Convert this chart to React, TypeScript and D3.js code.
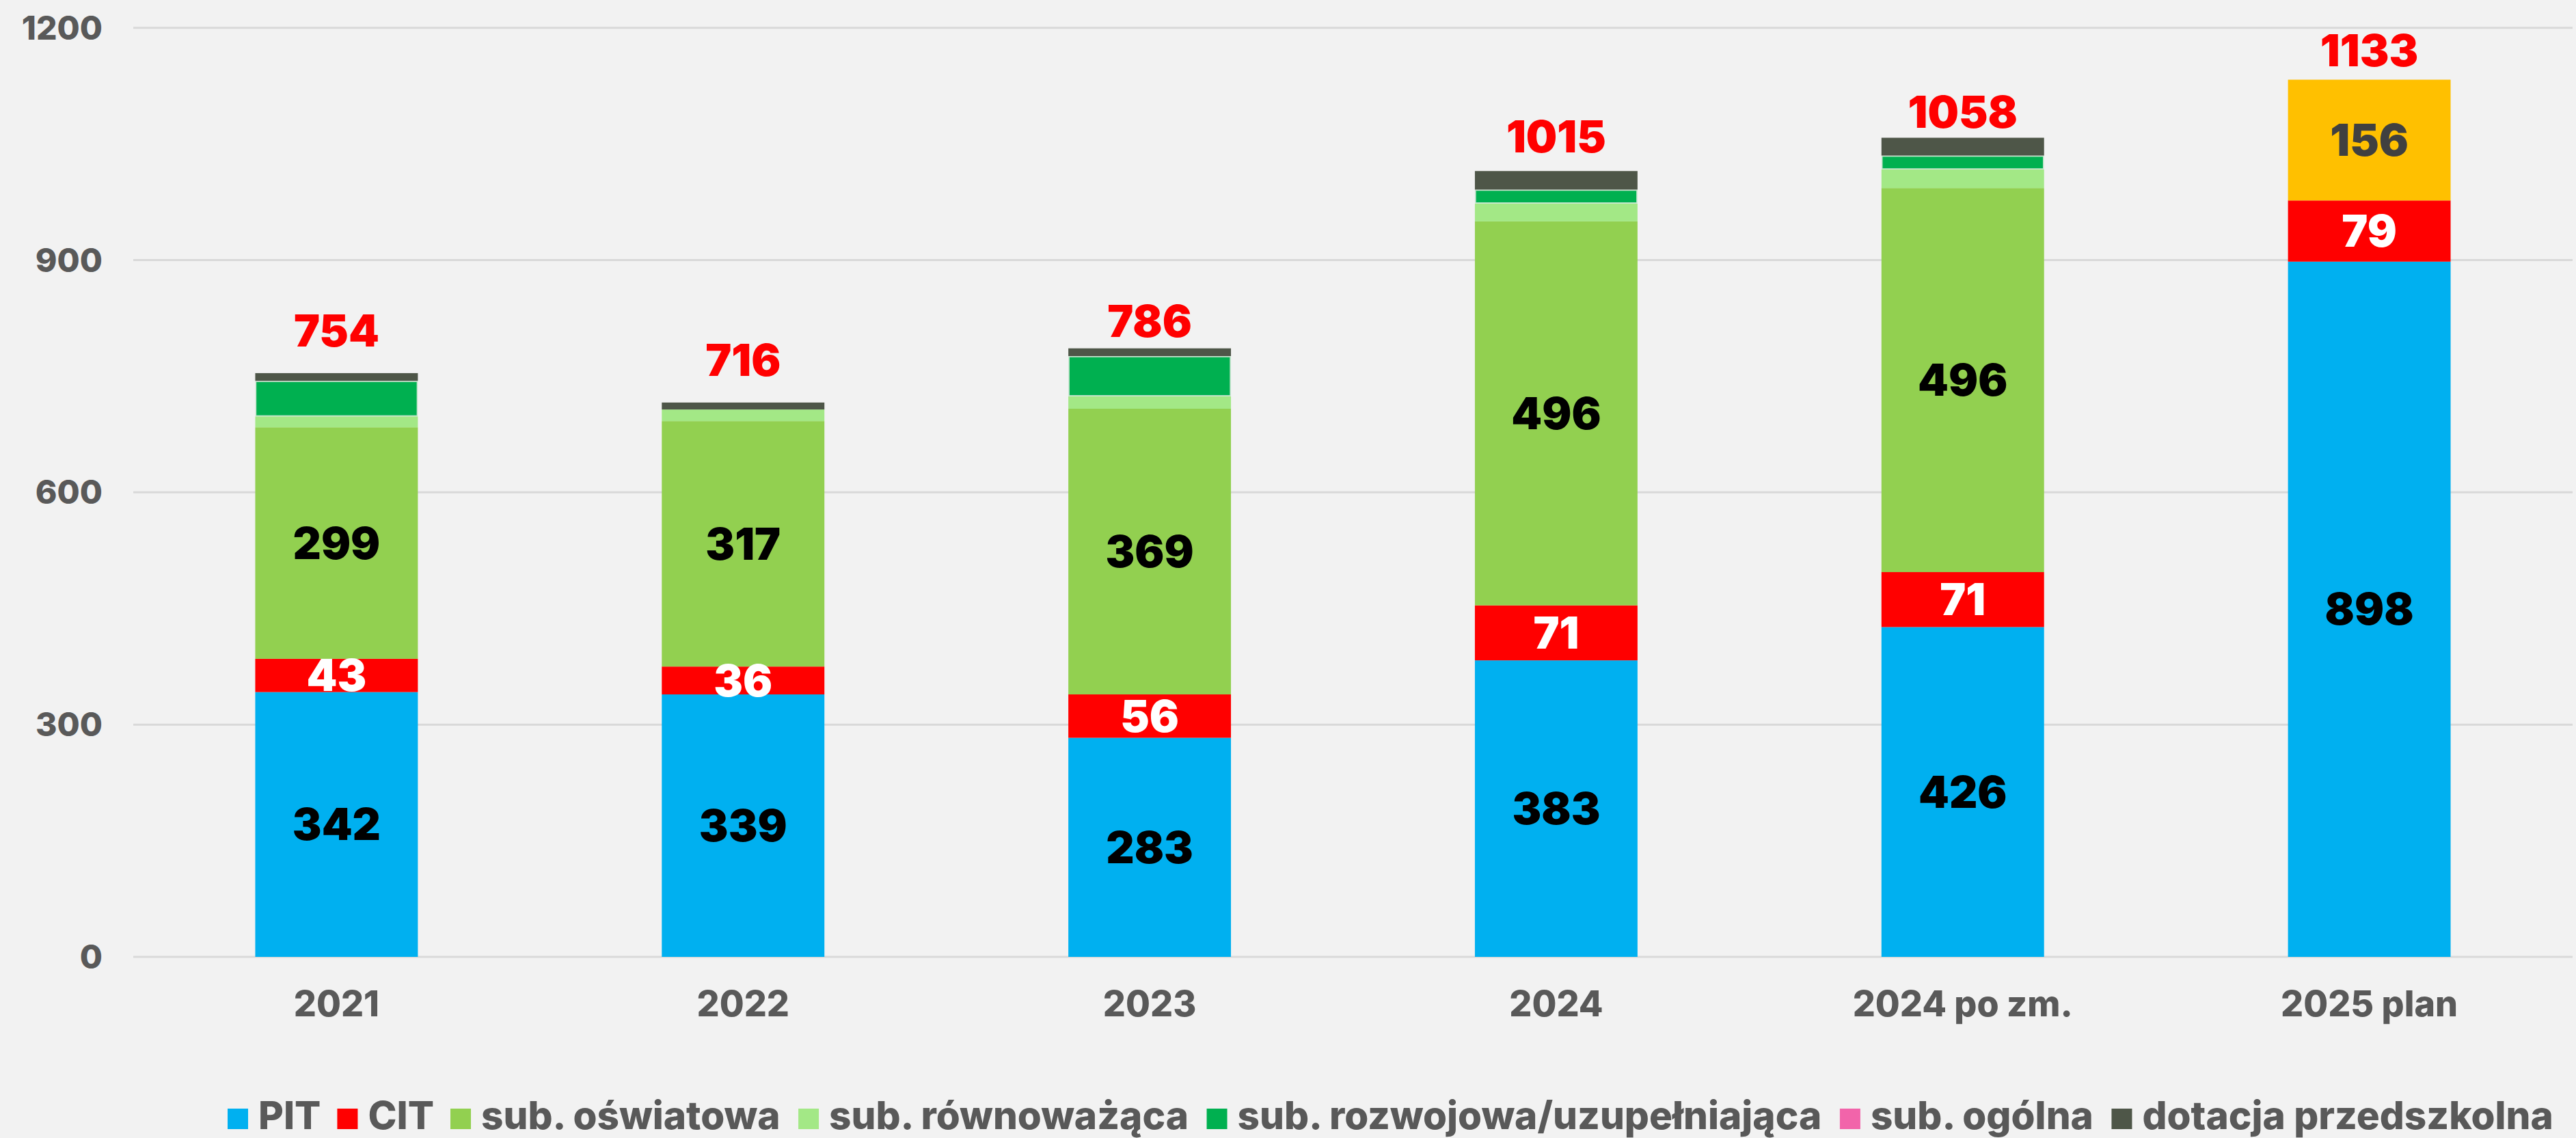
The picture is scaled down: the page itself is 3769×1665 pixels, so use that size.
import React, { useMemo } from "react";
import * as d3 from "d3";

const categories = ["2021", "2022", "2023", "2024", "2024 po zm.", "2025 plan"];
const pit = [342, 339, 283, 383, 426, 898];
const cit = [43, 36, 56, 71, 71, 79];
const oswiatowa = [299, 317, 369, 496, 496, 0];
const rownowazaca = [14, 15, 16, 23, 24, 0];
const rozwojowa = [46, 0, 52, 18, 18, 0];
const ogolna = [0, 0, 0, 0, 0, 0];
const przedszkolna = [10, 9, 10, 24, 23, 0];
const planInne = [0, 0, 0, 0, 0, 156];
const yTicks = [0, 300, 600, 900, 1200];
const totalLabelGap = [39, 39, 17, 27, 15, 20];

const W = 3769;
const H = 1665;
const FONT = "Inter, 'Open Sans', sans-serif";

type Series = {
  key: string;
  name: string;
  values: number[];
  color: string;
  label: string | null;
  legend: boolean;
};

const series: Series[] = [
  { key: "pit", name: "PIT", values: pit, color: "#00B0F0", label: "#000000", legend: true },
  { key: "cit", name: "CIT", values: cit, color: "#FF0000", label: "#FFFFFF", legend: true },
  { key: "osw", name: "sub. oświatowa", values: oswiatowa, color: "#92D050", label: "#000000", legend: true },
  { key: "row", name: "sub. równoważąca", values: rownowazaca, color: "#A3E886", label: null, legend: true },
  { key: "roz", name: "sub. rozwojowa/uzupełniająca", values: rozwojowa, color: "#00B050", label: null, legend: true },
  { key: "ogo", name: "sub. ogólna", values: ogolna, color: "#F264AA", label: null, legend: true },
  { key: "prz", name: "dotacja przedszkolna", values: przedszkolna, color: "#4E5648", label: null, legend: true },
  { key: "inn", name: "inne (plan)", values: planInne, color: "#FFC000", label: "#404040", legend: false },
];

export default function App() {
  const x = d3
    .scaleBand<string>()
    .domain(categories)
    .range([195, 3764])
    .paddingInner(0.6)
    .paddingOuter(0.3);
  const y = d3.scaleLinear().domain([0, 1200]).range([1400, 40.7]);

  const rows = categories.map((c, i) => {
    const r: any = { cat: c };
    series.forEach((s) => (r[s.key] = s.values[i]));
    return r;
  });
  const stack = d3.stack<any>().keys(series.map((s) => s.key));
  const stacked = stack(rows);
  const totals = categories.map((_, i) => d3.sum(series, (s) => s.values[i]));

  const legendItems = series.filter((s) => s.legend);
  const legendLayout = useMemo(() => {
    const canvas = document.createElement("canvas");
    const ctx = canvas.getContext("2d")!;
    ctx.font = `800 48px ${FONT}`;
    const widths48 = legendItems.map((s) => ctx.measureText(s.name).width);
    const sq = 30, g1 = 15, g2 = 24;
    const startX = 333, endX = 3736;
    const fixed = legendItems.length * (sq + g1) + (legendItems.length - 1) * g2;
    const k = (endX - startX - fixed) / d3.sum(widths48);
    const fs = 48 * k;
    let cx = startX;
    const items = legendItems.map((s, i) => {
      const it = { s, x: cx, tx: cx + sq + g1, w: widths48[i] * k };
      cx = it.tx + it.w + g2;
      return it;
    });
    return { items, fs, sq };
  }, []);

  return (
    <svg
      width={W}
      height={H}
      style={{ position: "absolute", left: 0, top: 0, display: "block", background: "#F2F2F2" }}
      fontFamily={FONT}
    >
      <rect x={0} y={0} width={W} height={H} fill="#F2F2F2" />
      {yTicks.map((t) => (
        <g key={t}>
          <line x1={195} x2={3764} y1={y(t)} y2={y(t)} stroke="#D9D9D9" strokeWidth={3} />
          <text x={150} y={y(t) + 17} textAnchor="end" fontSize={48} fontWeight={800} fill="#595959">
            {t}
          </text>
        </g>
      ))}
      {stacked.map((layer, li) => {
        const s = series[li];
        return (
          <g key={s.key}>
            {layer.map((d, i) => {
              const v = d[1] - d[0];
              if (v <= 0) return null;
              const x0 = x(categories[i])!;
              const bw = x.bandwidth();
              const outlined = s.key === "roz";
              return (
                <rect
                  key={i}
                  x={outlined ? x0 + 1 : x0}
                  y={y(d[1]) + (outlined ? 1 : 0)}
                  width={outlined ? bw - 2 : bw}
                  height={y(d[0]) - y(d[1]) - (outlined ? 2 : 0)}
                  fill={s.color}
                  stroke={outlined ? "#BFE3C8" : "none"}
                  strokeWidth={outlined ? 1.5 : 0}
                />
              );
            })}
          </g>
        );
      })}
      {stacked.map((layer, li) => {
        const s = series[li];
        if (!s.label) return null;
        return (
          <g key={s.key + "-lbl"}>
            {layer.map((d, i) => {
              const v = d[1] - d[0];
              if (v <= 0) return null;
              const cx = x(categories[i])! + x.bandwidth() / 2;
              const cy = (y(d[0]) + y(d[1])) / 2;
              return (
                <text
                  key={i}
                  x={cx}
                  y={cy + 23}
                  textAnchor="middle"
                  fontSize={64}
                  fontWeight={900}
                  fill={s.label!}
                >
                  {s.values[i]}
                </text>
              );
            })}
          </g>
        );
      })}
      {totals.map((t, i) => (
        <text
          key={"tot" + i}
          x={x(categories[i])! + x.bandwidth() / 2}
          y={y(t) - totalLabelGap[i]}
          textAnchor="middle"
          fontSize={64}
          fontWeight={900}
          fill="#FF0000"
        >
          {t}
        </text>
      ))}
      {categories.map((c) => (
        <text
          key={"x" + c}
          x={x(c)! + x.bandwidth() / 2}
          y={1487}
          textAnchor="middle"
          fontSize={52}
          fontWeight={800}
          fill="#595959"
        >
          {c}
        </text>
      ))}
      <g>
        {legendLayout.items.map((it) => (
          <g key={"lg" + it.s.key}>
            <rect x={it.x} y={1622} width={legendLayout.sq} height={30} fill={it.s.color} />
            <text x={it.tx} y={1652} fontSize={legendLayout.fs} fontWeight={800} fill="#595959">
              {it.s.name}
            </text>
          </g>
        ))}
      </g>
    </svg>
  );
}
